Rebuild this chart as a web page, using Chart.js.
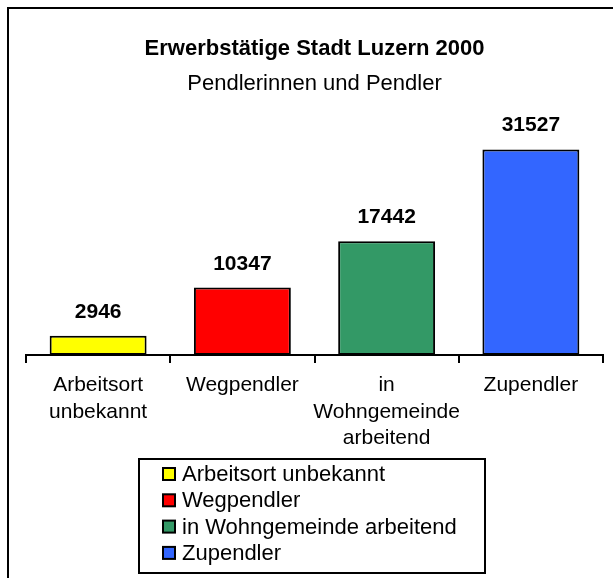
<!DOCTYPE html>
<html>
<head>
<meta charset="utf-8">
<script src="https://cdn.jsdelivr.net/npm/chart.js@4"></script>
<style>
html,body{margin:0;padding:0;background:#fff;}
#wrap{position:relative;width:613px;height:578px;}
</style>
</head>
<body>
<div id="wrap"><canvas id="c" width="613" height="578"></canvas></div>
<script>
const titleText = 'Erwerbstätige Stadt Luzern 2000';
const subtitleText = 'Pendlerinnen und Pendler';
const categories = [['Arbeitsort','unbekannt'], ['Wegpendler'], ['in','Wohngemeinde','arbeitend'], ['Zupendler']];
const legendLabels = ['Arbeitsort unbekannt', 'Wegpendler', 'in Wohngemeinde arbeitend', 'Zupendler'];
const values = [2946, 10347, 17442, 31527];
const colors = ['#FFFF00', '#FF0000', '#339966', '#3366FF'];

const FONT = "'Liberation Sans', Arial, sans-serif";

const framePlugin = {
  id: 'frame',
  beforeDraw(chart) {
    const ctx = chart.ctx;
    ctx.save();
    ctx.fillStyle = '#fff';
    ctx.fillRect(0, 0, chart.width, chart.height);
    ctx.strokeStyle = '#000';
    ctx.lineWidth = 2;
    ctx.beginPath();
    ctx.moveTo(8, chart.height);
    ctx.lineTo(8, 8);
    ctx.lineTo(chart.width, 8);
    ctx.stroke();
    ctx.restore();
  }
};

const valueLabels = {
  id: 'valueLabels',
  afterDatasetsDraw(chart) {
    const ctx = chart.ctx;
    const meta = chart.getDatasetMeta(0);
    ctx.save();
    ctx.font = 'bold 21px ' + FONT;
    ctx.fillStyle = '#000';
    ctx.textAlign = 'center';
    ctx.textBaseline = 'alphabetic';
    meta.data.forEach((bar, i) => {
      ctx.fillText(String(values[i]), bar.x, bar.y - 18);
    });
    ctx.restore();
  }
};

const boxLegend = {
  id: 'boxLegend',
  afterDraw(chart) {
    const ctx = chart.ctx;
    ctx.save();
    ctx.strokeStyle = '#000';
    ctx.lineWidth = 2;
    ctx.strokeRect(139, 459, 346, 114);
    ctx.font = '22px ' + FONT;
    ctx.textBaseline = 'middle';
    ctx.textAlign = 'left';
    legendLabels.forEach((lab, i) => {
      const cy = 474 + i * 26.3;
      ctx.fillStyle = colors[i];
      ctx.fillRect(163, cy - 6, 12, 12);
      ctx.lineWidth = 2;
      ctx.strokeStyle = '#000';
      ctx.strokeRect(163, cy - 6, 12, 12);
      ctx.fillStyle = '#000';
      ctx.fillText(lab, 182, cy + 1);
    });
    ctx.restore();
  }
};

new Chart(document.getElementById('c'), {
  type: 'bar',
  data: {
    labels: categories,
    datasets: [{
      data: values,
      backgroundColor: colors,
      borderColor: '#000',
      borderWidth: 2,
      borderSkipped: false,
      barPercentage: 0.672,
      categoryPercentage: 1.0
    }]
  },
  options: {
    responsive: false,
    animation: false,
    devicePixelRatio: 1,
    layout: { padding: { left: 26, right: 10, top: 0, bottom: 117 } },
    plugins: {
      legend: { display: false },
      tooltip: { enabled: false },
      title: {
        display: true,
        text: titleText,
        color: '#000',
        font: { family: FONT, size: 22, weight: 'bold', lineHeight: 1.2 },
        padding: { top: 36, bottom: 0 }
      },
      subtitle: {
        display: true,
        text: subtitleText,
        color: '#000',
        font: { family: FONT, size: 22, weight: 'normal', lineHeight: 1.2 },
        padding: { top: 8, bottom: 0 }
      }
    },
    scales: {
      x: {
        offset: true,
        grid: {
          display: true,
          offset: true,
          drawOnChartArea: false,
          drawTicks: true,
          tickLength: 8,
          color: '#000',
          lineWidth: 2
        },
        border: { display: true, color: '#000', width: 2 },
        ticks: {
          color: '#000',
          padding: 9,
          maxRotation: 0,
          autoSkip: false,
          font: { family: FONT, size: 21, lineHeight: 1.27 }
        }
      },
      y: {
        display: false,
        min: 0,
        max: 39600
      }
    }
  },
  plugins: [framePlugin, valueLabels, boxLegend]
});
</script>
</body>
</html>
